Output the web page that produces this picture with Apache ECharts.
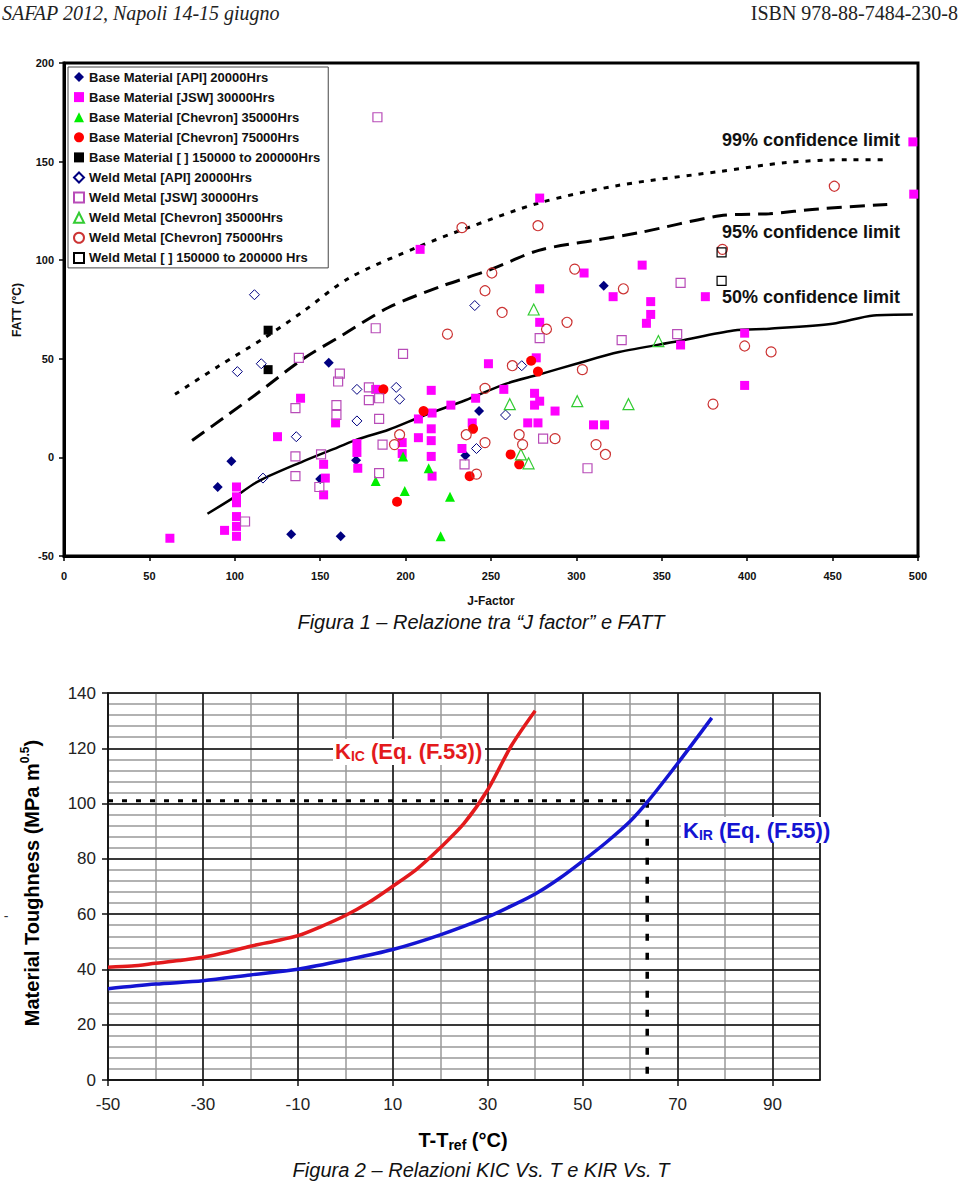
<!DOCTYPE html>
<html><head><meta charset="utf-8">
<script src="https://cdn.jsdelivr.net/npm/echarts@6/dist/echarts.min.js"></script>
<style>html,body{margin:0;padding:0;background:#fff;}#c{width:960px;height:1185px;}</style>
</head><body><div id="c"></div>
<script>
// ---------- Figure 1 data: [J-Factor, FATT] ----------
const apiBase = [[90,-15],[98,-2],[133,-39],[155,48],[162,-40],[150,-11],[171,-1.5],[235,1],[243,23.5],[316,87]];
const jswBase = [[62,-41],[94,-37],[101,-15],[101,-20],[101,-23],[101,-30],[101,-35],[101,-40],[125,10.5],[138.5,30],[152,-3.5],[153,-10.5],[152,-19],[159,17.5],[171.5,7],[171.5,2.5],[172,-5.5],[182.5,34.5],[198,7.5],[198,2],[207.5,19.5],[207.5,10],[215,34],[215.5,22.5],[215,14.5],[215,8.5],[215,0.5],[215.5,-9.5],[226.5,26.5],[233,4.5],[239,17.5],[241,30],[248.5,47.5],[257.5,34.5],[275.5,32.5],[278.5,28.5],[275.5,26.5],[276.5,50.5],[278.5,68.5],[278.5,85.5],[278.5,131.5],[287.5,23.5],[271.5,17.5],[277.5,17.5],[304.5,93.5],[321.5,81.5],[310,16.5],[316.5,16.5],[208.5,105.5],[338.5,97.5],[343.5,79],[343.5,72.5],[341,68],[361,57],[375.5,81.5],[398.5,63],[398.5,36.5],[497,160],[497.5,133.5]];
const chevBase35 = [[182.5,-12],[199.5,-17],[198.5,0.5],[213.5,-5.5],[226,-20],[220.5,-40]];
const chevBase75 = [[187,34.5],[210.5,23.5],[239.5,14.5],[195,-22.5],[237.5,-9.5],[261.5,1.5],[266.5,-3.5],[273.5,49],[277.5,43.5]];
const otherBase = [[119.5,64.5],[119.5,44.5]];
const apiWeld = [[111.5,82.5],[101.5,43.5],[115.5,47.5],[136,10.5],[116.5,-10.5],[171.5,34.5],[171.5,18.5],[194.5,35.5],[196.5,29.5],[240.5,77],[268,46.5],[258.5,21.5],[241.5,4.5]];
const jswWeld = [[137.5,50.5],[135.5,25],[135.5,0.5],[135.5,-9.5],[150.5,1.5],[149.5,-15],[161.5,42.5],[160.5,38.5],[159.5,26.5],[159.5,21.5],[106,-32.5],[183.5,172.5],[182.5,65.5],[198.5,52.5],[278.5,60.5],[326.5,59.5],[178.5,35.5],[178.5,29],[184.5,30],[184.5,19.5],[186.5,6.5],[184.5,-8],[234.5,-3.5],[280.5,9.5],[306.5,-5.5],[361,88.5],[359,62.5]];
const chevWeld35 = [[275,75],[261,27],[300.5,28.5],[330.5,27],[267.5,1.5],[272,-3],[348,59]];
const chevWeld75 = [[233,116.5],[277.5,117.5],[250.5,93.5],[299,95.5],[246.5,84.5],[327.5,85.5],[256.5,73.5],[294.5,68.5],[282.5,65],[224.5,62.5],[262.5,46.5],[303.5,44.5],[246.5,35],[196.5,11.5],[193.5,6.5],[235.5,11.5],[246.5,7.5],[266.5,11.5],[268.5,6.5],[287.5,9.5],[311.5,6.5],[317,1.5],[241.5,-8.5],[451,137.5],[385.5,105.5],[398.5,56.5],[414,53.5],[380,27]];
const otherWeld = [[385,104],[385,89.5]];
const conf99 = [[65,32],[90,46],[118,61],[140,74],[167,91],[208,107],[235,116],[278,129],[325,138],[384,145],[423,149.5],[460,151],[483,151]];
const conf95 = [[75,8.6],[95,21],[114,33],[140,50],[163,62],[190,76],[220,86.5],[249,95],[278,105],[310,110],[337,114],[384,122.5],[413,123.6],[442,126],[482,128.3]];
const conf50 = [[84,-28.6],[100,-20],[114,-12],[140,-2],[160,5],[173,9.5],[190,14],[210,21],[235,29],[259,37.4],[278,42],[300,47.5],[325,53.4],[360,59],[392,64.4],[413,65.3],[450,67.8],[474,72],[497,72.5]];
const legendNames = ['Base Material [API] 20000Hrs','Base Material [JSW] 30000Hrs','Base Material [Chevron] 35000Hrs','Base Material [Chevron] 75000Hrs','Base Material [ ] 150000 to 200000Hrs','Weld Metal [API] 20000Hrs','Weld Metal [JSW] 30000Hrs','Weld Metal [Chevron] 35000Hrs','Weld Metal [Chevron] 75000Hrs','Weld Metal [ ] 150000 to 200000 Hrs'];
const confLabels = ['99% confidence limit','95% confidence limit','50% confidence limit'];

// ---------- Figure 2 data: [T - Tref, toughness] ----------
const kic = [[-50,40.8],[-45,41.2],[-40,42.2],[-35,43.2],[-30,44.4],[-25,46.2],[-20,48.4],[-15,50.2],[-10,52.2],[-5,55.6],[0,59.5],[5,64.3],[10,70.1],[15,76.2],[20,84],[25,92.8],[30,105],[35,121],[40,133.6]];
const kir = [[-50,33],[-40,34.7],[-30,35.9],[-20,38],[-10,40.1],[0,43.4],[10,47.2],[20,52.5],[30,59],[35,63],[40,67.3],[45,72.8],[50,79.2],[55,86],[60,93.6],[63.6,100.5],[70,114.5],[77.2,131]];
const refLevel = 101;
const refTemp = 63.6;

const chart = echarts.init(document.getElementById('c'), null, {renderer:'svg'});

function sc(name, data, symbol, size, fill, stroke, bw){
  return {type:'scatter', name, data, xAxisIndex:0, yAxisIndex:0, symbol, symbolSize:size,
    itemStyle:{color:fill, borderColor:stroke, borderWidth:bw, opacity:1}, emphasis:{disabled:true}, z:5};
}
function cl(data, type, width){
  return {type:'line', data, xAxisIndex:0, yAxisIndex:0, showSymbol:false, smooth:0.3, silent:true,
    lineStyle:{color:'#000', width, type}, z:3};
}
function txt(x,y,text,font,fill,align,rot,extra){
  return {type:'text', x, y, rotation: rot||0, silent:true,
    style: Object.assign({text, font, fill, textAlign:align||'left', align:align||'left', textVerticalAlign:'middle', verticalAlign:'middle'}, extra||{})};
}
function kLabel(color){
  const base = {fontWeight:'bold', fontFamily:'Arial', fill:color};
  return {rich:{
    k:Object.assign({fontSize:22, lineHeight:24, height:24}, base),
    s:Object.assign({fontSize:14, lineHeight:24, height:24, padding:[10,0,0,0]}, base)
  }};
}
const T = 'transparent';
const series = [
  cl(conf99, [5,7], 3), cl(conf95, [15,8], 3), cl(conf50, 'solid', 2.5),
  sc(legendNames[0], apiBase, 'diamond', 10, '#000080', '#000080', 0),
  sc(legendNames[1], jswBase, 'rect', 9, '#FF00FF', '#FF00FF', 0),
  sc(legendNames[2], chevBase35, 'triangle', 10, '#00EE00', '#00EE00', 0),
  sc(legendNames[3], chevBase75, 'circle', 10, '#FF0000', '#FF0000', 0),
  sc(legendNames[4], otherBase, 'rect', 9, '#000000', '#000000', 0),
  sc(legendNames[5], apiWeld, 'diamond', 10, T, '#000080', 1),
  sc(legendNames[6], jswWeld, 'rect', 9, T, '#B84CB8', 1.2),
  sc(legendNames[7], chevWeld35, 'triangle', 11, T, '#33CC33', 1.2),
  sc(legendNames[8], chevWeld75, 'circle', 10, T, '#CC3333', 1.2),
  sc(legendNames[9], otherWeld, 'rect', 9, T, '#000000', 1.2),
  {type:'line', name:'KIC', data:kic, xAxisIndex:2, yAxisIndex:2, showSymbol:false, smooth:0.3, silent:true, lineStyle:{color:'#E31A1C', width:3.5}, z:4},
  {type:'line', name:'KIR', data:kir, xAxisIndex:2, yAxisIndex:2, showSymbol:false, smooth:0.3, silent:true, lineStyle:{color:'#1414D2', width:3.5}, z:4},
  {type:'line', data:[[-50,refLevel],[refTemp,refLevel]], xAxisIndex:2, yAxisIndex:2, showSymbol:false, silent:true, lineStyle:{color:'#000', width:3, type:[5,9]}, z:3},
  {type:'line', data:[[refTemp,refLevel],[refTemp,0]], xAxisIndex:2, yAxisIndex:2, showSymbol:false, silent:true, lineStyle:{color:'#000', width:3.5, type:[7,12]}, z:3}
];

const lab1 = {fontFamily:'Arial', fontWeight:'bold', fontSize:11, color:'#111'};
const lab2 = {fontFamily:'Arial', fontSize:17, color:'#222'};

chart.setOption({
  animation:false,
  backgroundColor:'#fff',
  grid:[
    {left:64, top:63, width:854, height:493, show:true, borderColor:'#000', borderWidth:3, backgroundColor:'#fff'},
    {left:108, top:693, width:712, height:387, show:true, borderColor:'#111', borderWidth:1.5, backgroundColor:'transparent'}
  ],
  xAxis:[
    {gridIndex:0, type:'value', min:0, max:500, interval:50, position:'bottom', axisLine:{onZero:false, lineStyle:{color:'#000', width:3}}, axisTick:{length:5, lineStyle:{color:'#000', width:1.5}}, axisLabel:Object.assign({margin:14}, lab1), splitLine:{show:false}},
    {gridIndex:1, type:'value', min:-50, max:100, interval:10, position:'bottom', z:0, axisLine:{show:false, onZero:false}, axisTick:{show:false}, axisLabel:{show:false}, splitLine:{show:true, lineStyle:{color:'#999', width:1.5}}},
    {gridIndex:1, type:'value', min:-50, max:100, interval:20, position:'bottom', z:1, axisLine:{onZero:false, lineStyle:{color:'#111', width:1.5}}, axisTick:{length:6, lineStyle:{color:'#111', width:1.5}}, axisLabel:Object.assign({margin:16, showMaxLabel:false}, lab2), splitLine:{show:true, lineStyle:{color:'#111', width:1.5}}}
  ],
  yAxis:[
    {gridIndex:0, type:'value', min:-50, max:200, interval:50, position:'left', axisLine:{onZero:false, lineStyle:{color:'#000', width:3}}, axisTick:{length:5, lineStyle:{color:'#000', width:1.5}}, axisLabel:Object.assign({margin:10}, lab1), splitLine:{show:false}},
    {gridIndex:1, type:'value', min:0, max:140, interval:4, position:'left', z:0, axisLine:{show:false, onZero:false}, axisTick:{show:false}, axisLabel:{show:false}, splitLine:{show:true, lineStyle:{color:'#999', width:1.5}}},
    {gridIndex:1, type:'value', min:0, max:140, interval:20, position:'left', z:1, axisLine:{onZero:false, lineStyle:{color:'#111', width:1.5}}, axisTick:{length:6, lineStyle:{color:'#111', width:1.5}}, axisLabel:Object.assign({margin:12}, lab2), splitLine:{show:true, lineStyle:{color:'#111', width:1.5}}}
  ],
  legend:{
    data:legendNames, orient:'vertical', left:68, top:67, itemWidth:10, itemHeight:10, itemGap:6.1,
    padding:[3,8,3,5], borderColor:'#444', borderWidth:1, backgroundColor:'#fff', selectedMode:false,
    textStyle:{fontFamily:'Arial', fontWeight:'bold', fontSize:13, color:'#111', lineHeight:14}
  },
  series,
  graphic:[
    txt(2,13,'SAFAP 2012, Napoli 14-15 giugno','italic 20px "Liberation Serif"','#222','left'),
    txt(958,13,'ISBN 978-88-7484-230-8','20px "Liberation Serif"','#222','right'),
    txt(900,140,confLabels[0],'bold 18px Arial','#111','right'),
    txt(900,232,confLabels[1],'bold 18px Arial','#111','right'),
    txt(900,297,confLabels[2],'bold 18px Arial','#111','right'),
    txt(491,601,'J-Factor','bold 12px Arial','#111','center'),
    txt(17,310,'FATT (°C)','bold 12px Arial','#111','center',Math.PI/2),
    txt(481,622,'Figura 1 – Relazione tra “J factor” e FATT','italic 20px Arial','#111','center'),
    {type:'rect', silent:true, shape:{x:333, y:739, width:152, height:26}, style:{fill:'#fff'}, z:10},
    {type:'rect', silent:true, shape:{x:681, y:817, width:150, height:26}, style:{fill:'#fff'}, z:10},
    Object.assign(txt(335,751,'{k|K}{s|IC}{k| (Eq. (F.53))}','bold 22px Arial','#E31A1C','left',0,kLabel('#E31A1C')),{z:11}),
    Object.assign(txt(683,830,'{k|K}{s|IR}{k| (Eq. (F.55))}','bold 22px Arial','#1414D2','left',0,kLabel('#1414D2')),{z:11}),
    txt(32,883,'{a|Material Toughness (MPa m}{s|0.5}{a|)}','bold 20px Arial','#000','center',Math.PI/2,{rich:{a:{fontSize:20,fontWeight:'bold',fontFamily:'Arial',fill:'#000',lineHeight:26},s:{fontSize:12,fontWeight:'bold',fontFamily:'Arial',fill:'#000',lineHeight:12,verticalAlign:'top'}}}),
    txt(6,916,'-','14px Arial','#333','center'),
    txt(463,1140,'{a|T-T}{s|ref}{a| (°C)}','bold 20px Arial','#000','center',0,{rich:{a:{fontSize:20,fontWeight:'bold',fontFamily:'Arial',fill:'#000',lineHeight:24},s:{fontSize:14,fontWeight:'bold',fontFamily:'Arial',fill:'#000',lineHeight:14,verticalAlign:'bottom'}}}),
    txt(481,1170,'Figura 2 – Relazioni KIC Vs. T e KIR Vs. T','italic 20px Arial','#111','center')
  ]
});
</script></body></html>
